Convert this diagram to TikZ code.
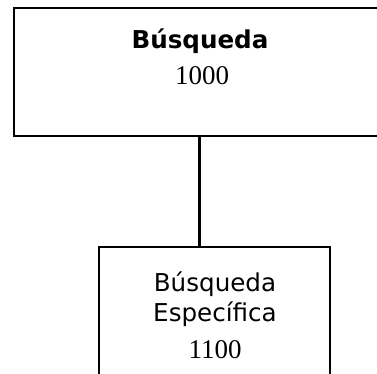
\documentclass[tikz,border=0pt]{standalone}
\usepackage{fontspec}
\setmainfont{Liberation Serif}
\setsansfont{DejaVu Sans}
\usetikzlibrary{positioning}
\tikzset{
	caja/.style={draw, line width=2.3pt, inner sep=0pt},
	titulo/.style={anchor=base, inner sep=0pt, font=\sffamily\bfseries\fontsize{24.6}{29}\selectfont},
	texto/.style={anchor=base, inner sep=0pt, font=\sffamily\fontsize{24.6}{29}\selectfont},
	codigo/.style={anchor=base, inner sep=0pt, font=\fontsize{27}{31}\selectfont},
}
\begin{document}
\begin{tikzpicture}[x=1pt,y=-1pt]
		\useasboundingbox (0,0) rectangle (377,373);

		\node[caja, minimum width=371pt, minimum height=128pt] (busqueda) at (199.5,72) {};
		\node[caja, minimum width=231pt, minimum height=150pt] (especifica) at (214.5,322) {};

		\draw[line width=2.3pt] (busqueda.south) -- (busqueda.south |- especifica.north);

		\node[titulo] (t1) at (200,48) {Búsqueda};
		\node[codigo] (t2) at (202,84) {1000};

		\node[texto] (b1) at (215,291) {Búsqueda};
		\node[texto] (b2) at (215,321) {Específica};
		\node[codigo] (b3) at (215,358) {1100};
	\end{tikzpicture}
\end{document}
